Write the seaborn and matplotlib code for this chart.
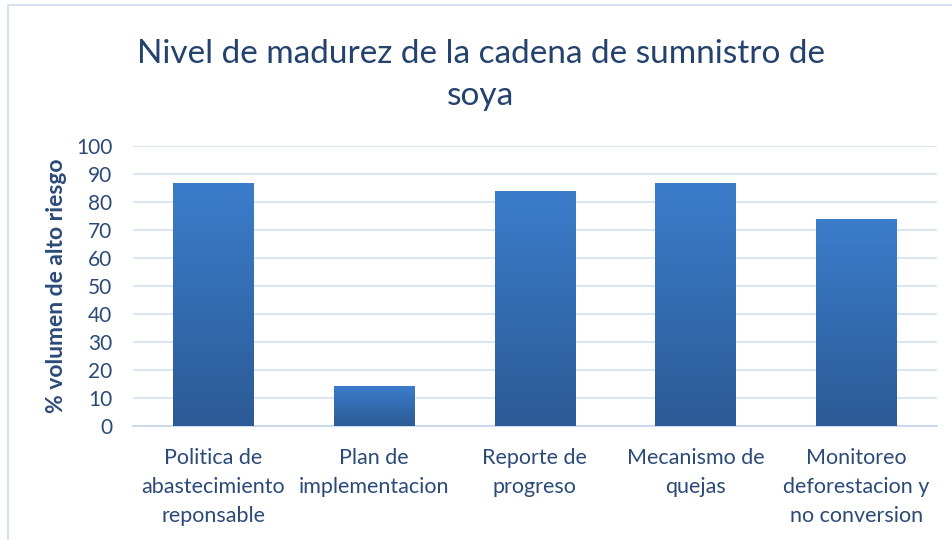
import numpy as np
import pandas as pd
import seaborn as sns
import matplotlib.pyplot as plt
from matplotlib.colors import LinearSegmentedColormap
from matplotlib.patches import Rectangle

# Data
categories = [
    "Politica de\nabastecimiento\nreponsable",
    "Plan de\nimplementacion",
    "Reporte de\nprogreso",
    "Mecanismo de\nquejas",
    "Monitoreo\ndeforestacion y\nno conversion",
]
values = [86.6, 14.0, 83.9, 86.6, 73.7]
y_ticks = [0, 10, 20, 30, 40, 50, 60, 70, 80, 90, 100]

title = "Nivel de madurez de la cadena de sumnistro de\nsoya"
y_label = "% volumen de alto riesgo"

text_color = "#2B4A78"
grid_color = "#D9E3F1"

sns.set_theme(style="white")
plt.rcParams['font.family'] = ['Lato', 'DejaVu Sans']

df = pd.DataFrame({"categoria": categories, "valor": values})

fig = plt.figure(figsize=(9.52, 5.4), dpi=100)
ax = fig.add_axes([0.1397, 0.2117, 0.8443, 0.5183])

sns.barplot(data=df, x="categoria", y="valor", ax=ax, color="#3A7CC8",
            width=0.5, saturation=1, zorder=3)

# gradient fill: lighter blue at top, darker at bottom
cmap = LinearSegmentedColormap.from_list("bar", ["#2C5A96", "#3B7DCB"])
grad = np.linspace(0, 1, 256).reshape(-1, 1)
for bar in ax.patches:
    x0, y0 = bar.get_x(), bar.get_y()
    w, h = bar.get_width(), bar.get_height()
    bar.set_edgecolor("none")
    img = ax.imshow(grad, cmap=cmap, origin="lower", aspect="auto",
                    extent=[x0, x0 + w, y0, y0 + h], zorder=4)
    img.set_clip_path(bar)

ax.set_xlim(-0.5, len(categories) - 0.5)
ax.set_ylim(0, 100)
ax.set_yticks(y_ticks)
ax.yaxis.grid(True, color=grid_color, linewidth=1.3, zorder=0)
ax.set_axisbelow(True)

for side in ["top", "right", "left"]:
    ax.spines[side].set_visible(False)
ax.spines["bottom"].set_color("#C8D6EA")
ax.spines["bottom"].set_linewidth(1.3)

ax.tick_params(axis="both", length=0, labelsize=15.5, colors=text_color)
ax.tick_params(axis="y", labelsize=15, pad=15)
ax.tick_params(axis="x", pad=16)
for lab in ax.get_xticklabels():
    lab.set_linespacing(1.55)

ax.set_xlabel("")
ax.set_ylabel(y_label, fontsize=16.5, fontweight="bold", color=text_color, labelpad=6)

fig.text(0.505, 0.862, title, ha="center", va="center", fontsize=24,
         color="#24426E", linespacing=1.5)

# light chart border
fig.patches.append(Rectangle((0.008, -0.05), 1.1, 1.04, transform=fig.transFigure,
                             fill=False, edgecolor="#D5E0F0", linewidth=1.5))

fig.savefig("out.png", dpi=100)
